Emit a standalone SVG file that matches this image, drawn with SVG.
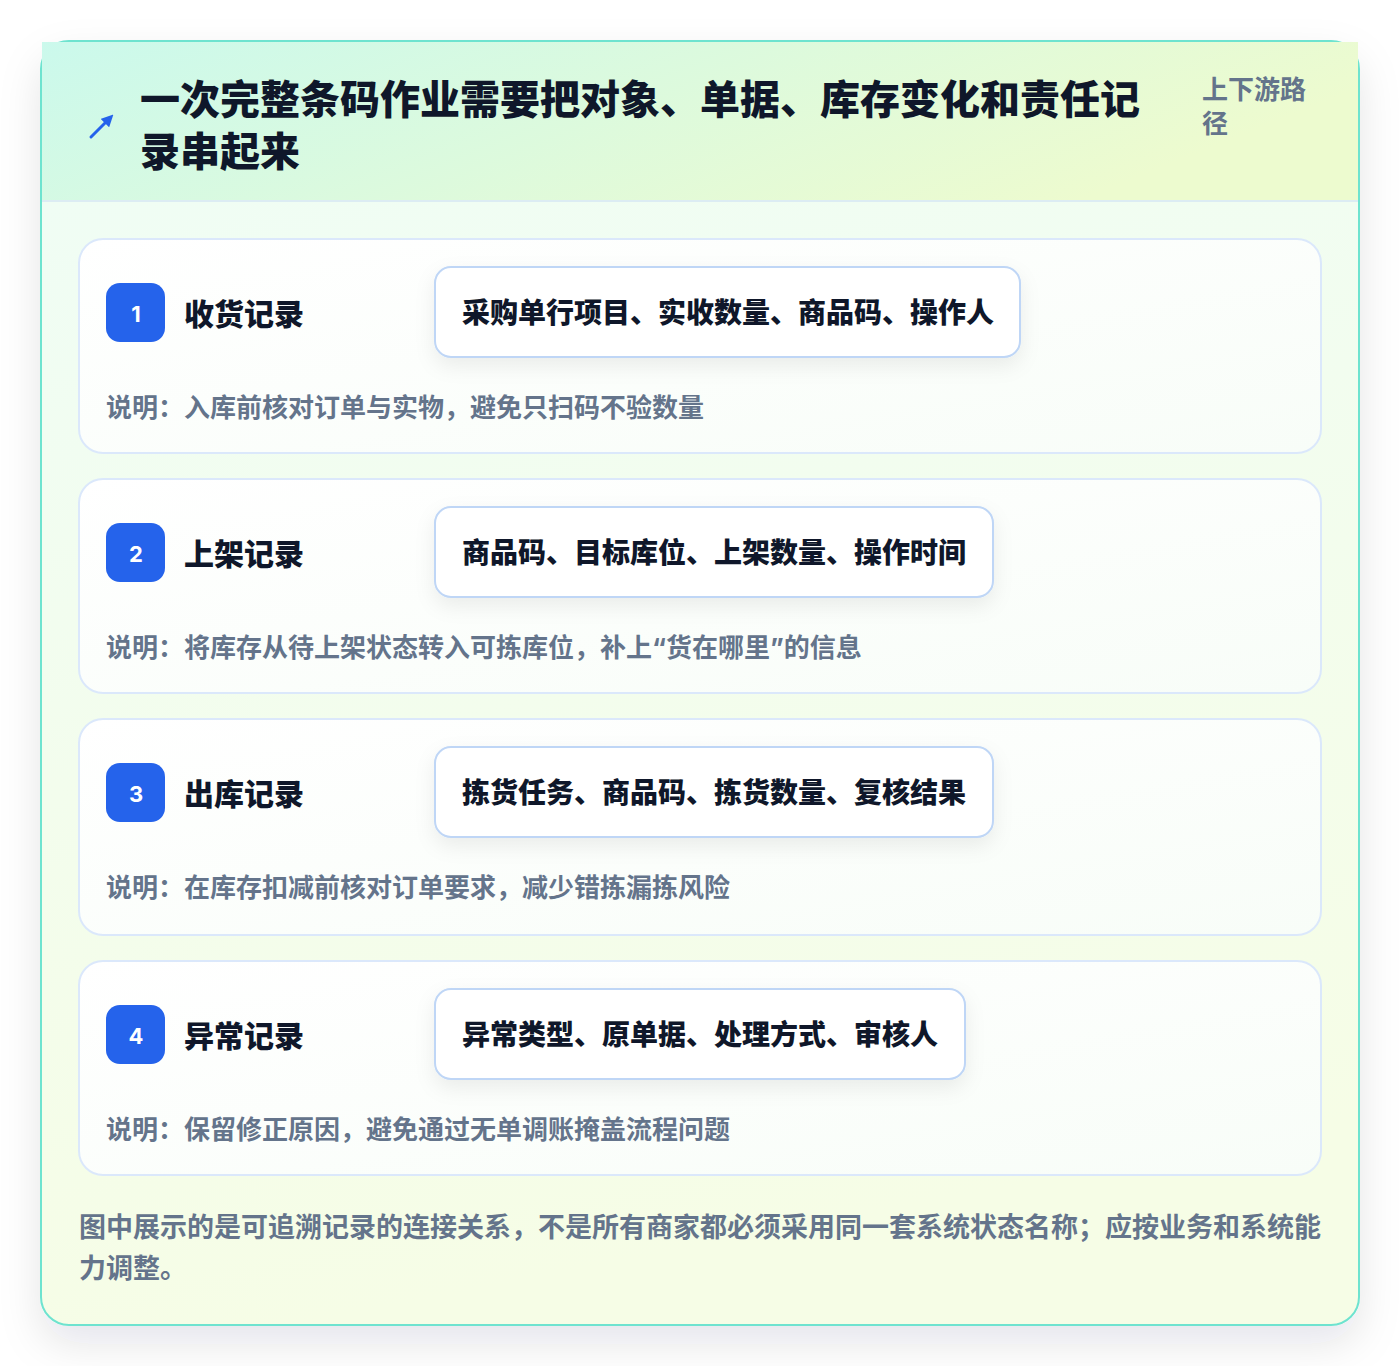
<svg xmlns="http://www.w3.org/2000/svg" width="1400" height="1366" viewBox="0 0 1400 1366">
<defs>
<linearGradient id="hdr" x1="0" y1="0" x2="1" y2="0.3"><stop offset="0" stop-color="#cbf9ec"/><stop offset="1" stop-color="#edfbcf"/></linearGradient>
<linearGradient id="body" x1="0" y1="0" x2="0.2" y2="1"><stop offset="0" stop-color="#effdf6"/><stop offset="1" stop-color="#f6fde6"/></linearGradient>
<linearGradient id="cardg" x1="0" y1="0" x2="1" y2="1"><stop offset="0" stop-color="#ffffff"/><stop offset="1" stop-color="#f8fdf8"/></linearGradient>
<filter id="outerShadow" x="-10%" y="-10%" width="120%" height="125%"><feDropShadow dx="0" dy="18" stdDeviation="20" flood-color="#0f172a" flood-opacity="0.10"/></filter>
<filter id="boxShadow" x="-10%" y="-30%" width="120%" height="170%"><feDropShadow dx="0" dy="8" stdDeviation="10" flood-color="#0f172a" flood-opacity="0.07"/></filter>
<marker id="ah" viewBox="0 0 10 10" refX="6" refY="5" markerWidth="4" markerHeight="4" orient="auto"><path d="M0,0 L10,5 L0,10 z" fill="#2563eb"/></marker>
<style>
.card{fill:url(#cardg);stroke:#dbe8fb;stroke-width:2}
.badge{fill:#2563eb}
.num{font-family:Inter,"Liberation Sans",sans-serif;font-size:22px;font-weight:700;fill:#ffffff;text-anchor:middle}
.rtitle{font-family:Inter,"Noto Sans CJK SC",sans-serif;font-size:30px;font-weight:800;fill:#0f172a}
.field{fill:#ffffff;stroke:#bfd6f6;stroke-width:2}
.ftext{font-family:Inter,"Noto Sans CJK SC",sans-serif;font-size:28px;font-weight:800;fill:#0f172a}
.desc{font-family:Inter,"Noto Sans CJK SC",sans-serif;font-size:26px;font-weight:700;fill:#64748b}
.title{font-family:Inter,"Noto Sans CJK SC",sans-serif;font-size:40px;font-weight:900;fill:#0f172a}
.tag{font-family:Inter,"Noto Sans CJK SC",sans-serif;font-size:26px;font-weight:700;fill:#64748b}
.foot{font-family:Inter,"Noto Sans CJK SC",sans-serif;font-size:27px;font-weight:700;fill:#64748b}
</style>
</defs>
<rect x="0" y="0" width="1400" height="1366" fill="#ffffff"/>
<g id="panel">
<rect x="41" y="41" width="1318" height="1284" rx="28" fill="url(#body)" stroke="#6ee3cf" stroke-width="2" filter="url(#outerShadow)"/>
<rect x="42" y="42" width="1316" height="158" fill="url(#hdr)"/>
<line x1="42" y1="201" x2="1358" y2="201" stroke="#dcecf3" stroke-width="2"/>
</g>
<g id="header">
<line x1="91" y1="137" x2="110" y2="118" stroke="#2563eb" stroke-width="3" stroke-linecap="round" marker-end="url(#ah)"/>
<text class="title" x="140" y="114">一次完整条码作业需要把对象、单据、库存变化和责任记</text>
<text class="title" x="140" y="166">录串起来</text>
<text class="tag" x="1202" y="99">上下游路</text>
<text class="tag" x="1202" y="133">径</text>
</g>
<g id="connectors"></g>
<g id="record-1">
<rect class="card" x="79" y="239" width="1242" height="214" rx="24"/>
<rect class="badge" x="106" y="283" width="59" height="59" rx="14"/>
<text class="num" x="136" y="322">1</text>
<text class="rtitle" x="184" y="325">收货记录</text>
<rect class="field" x="435" y="267" width="585" height="90" rx="16" filter="url(#boxShadow)"/>
<text class="ftext" x="462" y="323">采购单行项目、实收数量、商品码、操作人</text>
<text class="desc" x="106" y="417">说明：入库前核对订单与实物，避免只扫码不验数量</text>
</g>
<g id="record-2">
<rect class="card" x="79" y="479" width="1242" height="214" rx="24"/>
<rect class="badge" x="106" y="523" width="59" height="59" rx="14"/>
<text class="num" x="136" y="562">2</text>
<text class="rtitle" x="184" y="565">上架记录</text>
<rect class="field" x="435" y="507" width="558" height="90" rx="16" filter="url(#boxShadow)"/>
<text class="ftext" x="462" y="563">商品码、目标库位、上架数量、操作时间</text>
<text class="desc" x="106" y="657">说明：将库存从待上架状态转入可拣库位，补上“货在哪里”的信息</text>
</g>
<g id="record-3">
<rect class="card" x="79" y="719" width="1242" height="216" rx="24"/>
<rect class="badge" x="106" y="763" width="59" height="59" rx="14"/>
<text class="num" x="136" y="802">3</text>
<text class="rtitle" x="184" y="805">出库记录</text>
<rect class="field" x="435" y="747" width="558" height="90" rx="16" filter="url(#boxShadow)"/>
<text class="ftext" x="462" y="803">拣货任务、商品码、拣货数量、复核结果</text>
<text class="desc" x="106" y="897">说明：在库存扣减前核对订单要求，减少错拣漏拣风险</text>
</g>
<g id="record-4">
<rect class="card" x="79" y="961" width="1242" height="214" rx="24"/>
<rect class="badge" x="106" y="1005" width="59" height="59" rx="14"/>
<text class="num" x="136" y="1044">4</text>
<text class="rtitle" x="184" y="1047">异常记录</text>
<rect class="field" x="435" y="989" width="530" height="90" rx="16" filter="url(#boxShadow)"/>
<text class="ftext" x="462" y="1045">异常类型、原单据、处理方式、审核人</text>
<text class="desc" x="106" y="1139">说明：保留修正原因，避免通过无单调账掩盖流程问题</text>
</g>
<g id="footer">
<text class="foot" x="79" y="1237">图中展示的是可追溯记录的连接关系，不是所有商家都必须采用同一套系统状态名称；应按业务和系统能</text>
<text class="foot" x="79" y="1278">力调整。</text>
</g>
</svg>
